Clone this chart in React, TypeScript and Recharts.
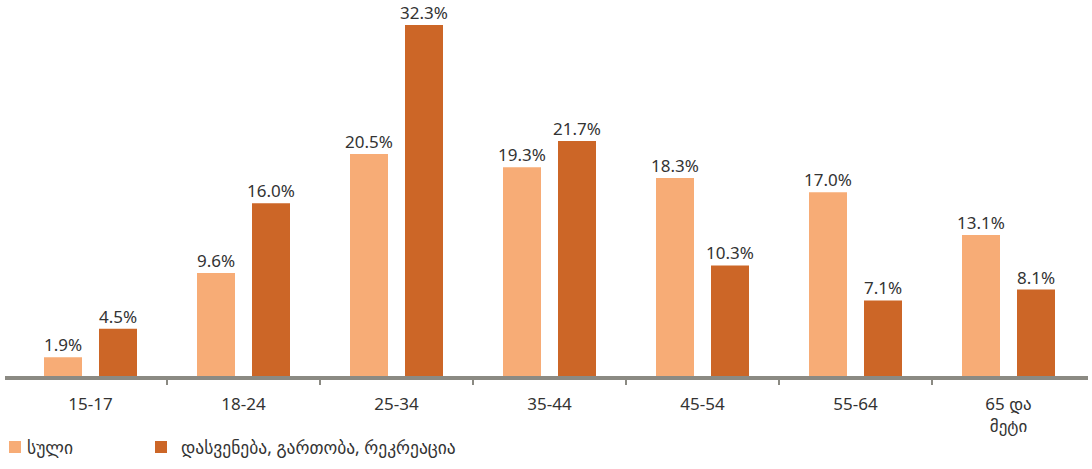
import { BarChart, Bar, XAxis, YAxis, LabelList } from 'recharts'

const categories = ['15-17', '18-24', '25-34', '35-44', '45-54', '55-64', '65 და მეტი']
const totalShare = [1.9, 9.6, 20.5, 19.3, 18.3, 17.0, 13.1]
const leisureShare = [4.5, 16.0, 32.3, 21.7, 10.3, 7.1, 8.1]
const seriesNames = ['სული', 'დასვენება, გართობა, რეკრეაცია']

const LIGHT = '#F7AC76'
const DARK = '#CC6627'
const AXIS = '#8B8A83'
const FONT = '"Noto Sans", "DejaVu Sans", sans-serif'

const W = 1092
const H = 469
const margin = { top: 12, right: 4, bottom: 41, left: 5 }
const padL = 9
const padR = 3
const band = (W - margin.left - margin.right - padL - padR) / categories.length

const chartData = categories.map((c, i) => ({
  name: c,
  total: totalShare[i],
  leisure: leisureShare[i],
}))

const fmt = (v: any) => `${Number(v).toFixed(1)}%`

// label under the axis + boundary tick mark between groups
function CategoryTick(props: any) {
  const { x, y, payload, index } = props
  const words = String(payload.value).split(' ')
  const lines = words.length > 2 ? [words.slice(0, 2).join(' '), words.slice(2).join(' ')] : [payload.value]
  return (
    <g>
      {index > 0 && (
        <line x1={x - band / 2} x2={x - band / 2} y1={y - 8} y2={y - 1} stroke={AXIS} strokeWidth={2} />
      )}
      {lines.map((l: string, i: number) => (
        <text key={i} x={x} y={y + 24 + i * 22} textAnchor="middle" fill="#333" fontSize={17} fontFamily={FONT}>
          {l}
        </text>
      ))}
    </g>
  )
}

function ChartLegend() {
  const items = [
    { label: seriesNames[0], color: LIGHT, x: 9, gap: 6 },
    { label: seriesNames[1], color: DARK, x: 155, gap: 14 },
  ]
  return (
    <div style={{ position: 'absolute', left: 0, top: 435, width: W, height: 24, fontFamily: FONT, fontSize: 17.5, color: '#333' }}>
      {items.map(it => (
        <div key={it.label} style={{ position: 'absolute', left: it.x, top: 0, display: 'flex', alignItems: 'center' }}>
          <span style={{ width: 12, height: 12, background: it.color, display: 'inline-block', marginRight: it.gap }} />
          <span>{it.label}</span>
        </div>
      ))}
    </div>
  )
}

export default function App() {
  return (
    <div style={{ position: 'absolute', left: 0, top: 0, width: W, height: H, background: '#fff' }}>
      <BarChart width={W} height={H} data={chartData} margin={margin} barSize={38} barGap={17}>
        <XAxis
          dataKey="name"
          interval={0}
          padding={{ left: padL, right: padR }}
          axisLine={{ stroke: AXIS, strokeWidth: 4 }}
          tickLine={false}
          tick={<CategoryTick />}
          height={50}
        />
        <YAxis hide domain={[0, 33.5]} />
        <Bar dataKey="total" name={seriesNames[0]} fill={LIGHT} isAnimationActive={false}>
          <LabelList dataKey="total" position="top" offset={6} formatter={fmt} fill="#333" fontSize={17} fontFamily={FONT} />
        </Bar>
        <Bar dataKey="leisure" name={seriesNames[1]} fill={DARK} isAnimationActive={false}>
          <LabelList dataKey="leisure" position="top" offset={6} formatter={fmt} fill="#333" fontSize={17} fontFamily={FONT} />
        </Bar>
      </BarChart>
      <ChartLegend />
    </div>
  )
}
